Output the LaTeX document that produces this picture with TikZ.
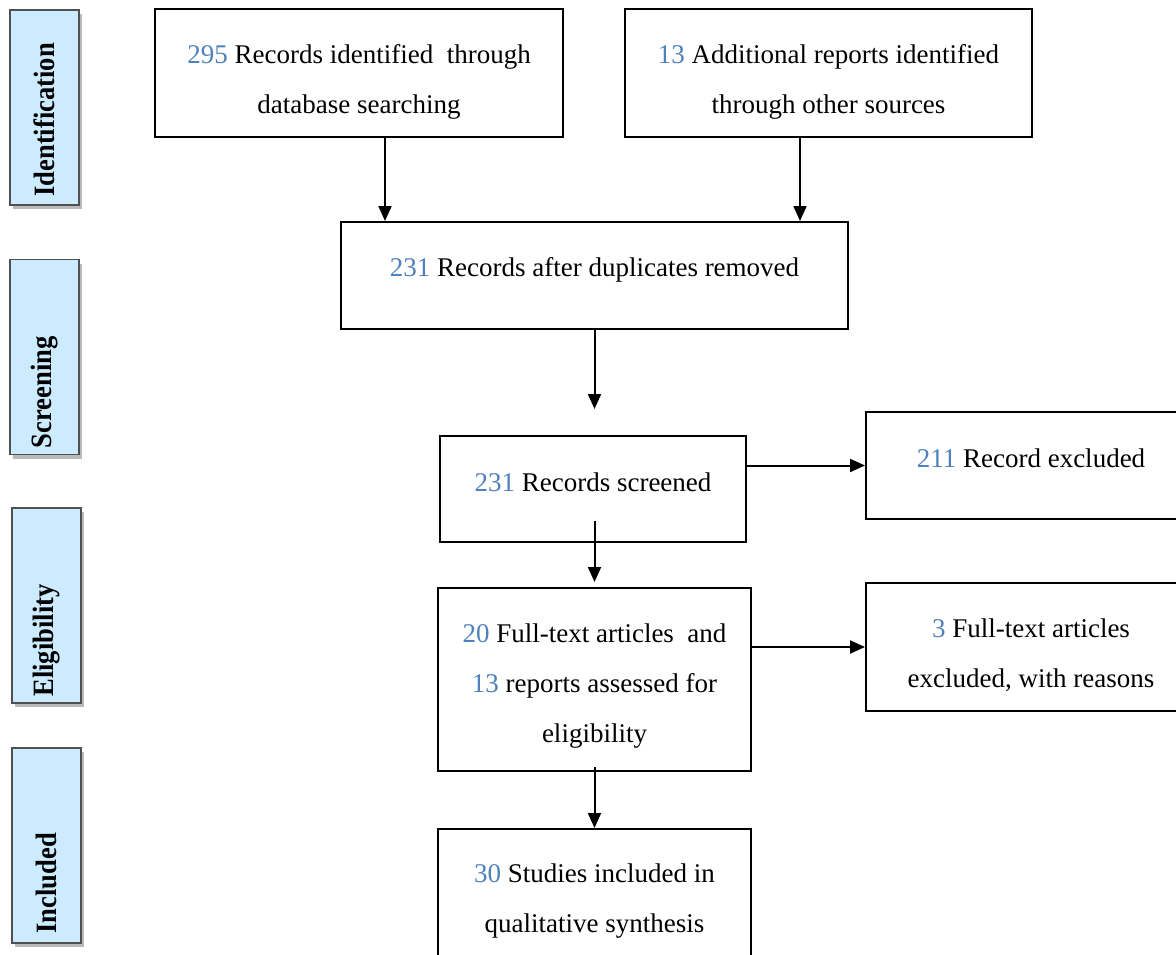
\documentclass[tikz,border=0pt]{standalone}
\usepackage{fontspec}
\setmainfont{Liberation Serif}
\newfontfamily\stagefont[FakeStretch=0.9]{Liberation Serif}
\usetikzlibrary{arrows.meta,shadows,calc}
\definecolor{numblue}{RGB}{79,129,189}
\definecolor{stagefill}{RGB}{204,235,255}
\definecolor{stageedge}{RGB}{80,80,80}
\newcommand{\num}[1]{\textcolor{numblue}{#1}}
\tikzset{
  flowbox/.style={draw=black, line width=2pt, fill=white, inner sep=0pt},
  flowtext/.style={align=center, inner sep=0pt, font=\fontsize{27}{50}\selectfont},
  stagebox/.style={draw=stageedge, line width=1.4pt, fill=stagefill, inner sep=0pt,
    minimum width=69pt, minimum height=195pt,
    drop shadow={shadow xshift=3pt, shadow yshift=-4pt, opacity=0.45, fill=black!60}},
  stagetext/.style={rotate=90, anchor=west, inner sep=0pt, font=\stagefont\fontsize{29.5}{32}\selectfont\bfseries},
  flowarrow/.style={line width=2pt, -{Triangle[length=15pt,width=13pt]}},
}
\begin{document}
\begin{tikzpicture}[x=1pt, y=-1pt]
\clip (0,0) rectangle (1176,955);
\fill[white] (0,0) rectangle (1176,955);

% stage labels on the left
\node[stagebox] (s1) at (44.5,107.5) {};
\node[stagebox] (s2) at (44.5,357) {};
\node[stagebox] (s3) at (46.5,605.5) {};
\node[stagebox] (s4) at (46.5,845.5) {};
\node[stagetext] (s1t) at ([yshift=9pt]s1.south) {Identification};
\node[stagetext] (s2t) at ([yshift=7pt]s2.south) {Screening};
\node[stagetext] (s3t) at ([yshift=7pt]s3.south) {Eligibility};
\node[stagetext] (s4t) at ([yshift=10pt]s4.south) {Included};

% flow boxes
\node[flowbox, minimum width=408pt, minimum height=128pt] (b1) at (359,73) {};
\node[flowbox, minimum width=407pt, minimum height=128pt] (b2) at (828.5,73) {};
\node[flowbox, minimum width=507pt, minimum height=107pt] (b3) at (594.5,275.5) {};
\node[flowbox, minimum width=306pt, minimum height=106pt] (b4) at (593,489) {};
\node[flowbox, minimum width=330pt, minimum height=107pt] (b5) at (1031,465.5) {};
\node[flowbox, minimum width=313pt, minimum height=183pt] (b6) at (594.5,679.5) {};
\node[flowbox, minimum width=330pt, minimum height=128pt] (b7) at (1031,647) {};
\node[flowbox, minimum width=313pt, minimum height=150pt] (b8) at (594.5,904) {};

% box texts
\node[flowtext] (t1) at ([yshift=-9pt]b1.center) {\num{295} Records identified \ through\\database searching};
\node[flowtext] (t2) at ([yshift=-9pt]b2.center) {\num{13} Additional reports identified\\through other sources};
\node[flowtext] (t3) at ([yshift=6pt]b3.center) {\num{231} Records after duplicates removed};
\node[flowtext] (t4) at ([yshift=7pt]b4.center) {\num{231} Records screened};
\node[flowtext] (t5) at ([yshift=7pt]b5.center) {\num{211} Record excluded};
\node[flowtext] (t6) at ([yshift=-7pt]b6.center) {\num{20} Full-text articles \ and\\\num{13} reports assessed for\\eligibility};
\node[flowtext] (t7) at ([yshift=-8pt]b7.center) {\num{3} Full-text articles\\excluded, with reasons};
\node[flowtext] (t8) at ([yshift=3pt]b8.center) {\num{30} Studies included in\\qualitative synthesis};

% connectors
\coordinate (c1) at (385,0);
\coordinate (c2) at (800,0);
\draw[flowarrow] (b1.south -| c1) -- (b3.north -| c1);
\draw[flowarrow] (b2.south -| c2) -- (b3.north -| c2);
\draw[flowarrow] (b3.south) -- ([yshift=26pt]b4.north -| b3.south);
\draw[flowarrow] ([yshift=22pt]b4.south -| b6.north) -- ([yshift=5pt]b6.north);
\draw[flowarrow] (b5.west -| b4.east) -- (b5.west);
\draw[flowarrow] (b7.west -| b6.east) -- (b7.west);
\draw[flowarrow] ([yshift=5pt]b6.south) -- (b8.north);
\end{tikzpicture}
\end{document}
